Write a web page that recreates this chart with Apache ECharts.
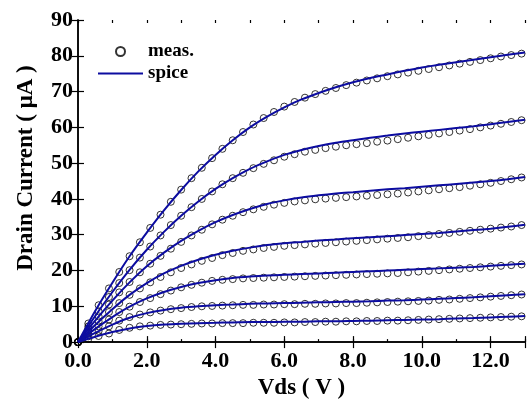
<!DOCTYPE html>
<html>
<head>
<meta charset="utf-8">
<script src="https://cdn.jsdelivr.net/npm/echarts@6/dist/echarts.min.js"></script>
<style>
  html, body { margin: 0; padding: 0; background: #fff; }
  #chart { width: 528px; height: 405px; }
</style>
</head>
<body>
<div id="chart"></div>
<script>
// measured points (Vds in V, Id in uA), one array per gate voltage
const vds = [0, 0.3, 0.6, 0.9, 1.2, 1.5, 1.8, 2.1, 2.4, 2.7, 3.0, 3.3, 3.6, 3.9, 4.2, 4.5, 4.8, 5.1, 5.4, 5.7,
  6.0, 6.3, 6.6, 6.9, 7.2, 7.5, 7.8, 8.1, 8.4, 8.7, 9.0, 9.3, 9.6, 9.9, 10.2, 10.5, 10.8, 11.1, 11.4, 11.7,
  12.0, 12.3, 12.6, 12.9];
const meas1 = [0, 0.9, 1.7, 2.4, 3.4, 4.0, 4.4, 4.6, 4.8, 4.9, 5.0, 5.1, 5.2, 5.2, 5.3, 5.3, 5.3, 5.4, 5.4, 5.4,
  5.5, 5.5, 5.6, 5.6, 5.7, 5.7, 5.8, 5.8, 5.9, 5.9, 6.0, 6.0, 6.1, 6.2, 6.3, 6.4, 6.5, 6.6, 6.7, 6.8,
  6.9, 7.0, 7.1, 7.2];
const meas2 = [0, 1.6, 3.1, 4.4, 6.0, 7.0, 7.7, 8.3, 8.8, 9.2, 9.5, 9.8, 10.0, 10.1, 10.2, 10.3, 10.4, 10.4, 10.5, 10.5,
  10.6, 10.6, 10.7, 10.7, 10.8, 10.8, 10.9, 10.9, 11.0, 11.1, 11.2, 11.3, 11.4, 11.5, 11.6, 11.8, 11.9, 12.1, 12.3, 12.5,
  12.7, 12.9, 13.1, 13.3];
const meas3 = [0, 2.3, 4.4, 6.3, 8.4, 9.9, 11.2, 12.3, 13.4, 14.4, 15.3, 16.0, 16.6, 17.1, 17.4, 17.6, 17.8, 17.9, 18.0, 18.1,
  18.2, 18.3, 18.4, 18.5, 18.6, 18.7, 18.8, 18.9, 19.0, 19.1, 19.2, 19.3, 19.5, 19.7, 19.9, 20.1, 20.3, 20.5, 20.7, 20.9,
  21.1, 21.3, 21.5, 21.7];
const meas4 = [0, 3.0, 5.8, 8.4, 10.9, 13.2, 15.0, 16.7, 18.2, 19.5, 20.7, 21.7, 22.7, 23.5, 24.3, 24.9, 25.5, 25.9, 26.3, 26.6,
  26.9, 27.1, 27.3, 27.5, 27.7, 27.9, 28.1, 28.3, 28.5, 28.7, 28.9, 29.1, 29.3, 29.6, 29.9, 30.2, 30.5, 30.8, 31.1, 31.4,
  31.7, 32.0, 32.3, 32.7];
const meas5 = [0, 3.7, 7.2, 10.5, 13.9, 16.8, 19.5, 21.9, 24.1, 26.1, 28.0, 29.8, 31.4, 32.9, 34.2, 35.3, 36.3, 37.1, 37.8, 38.4,
  38.9, 39.3, 39.6, 39.9, 40.1, 40.3, 40.5, 40.7, 40.9, 41.1, 41.3, 41.5, 41.8, 42.1, 42.4, 42.7, 43.0, 43.3, 43.7, 44.1,
  44.5, 45.0, 45.5, 46.0];
const meas6 = [0, 4.4, 8.6, 12.6, 16.5, 20.1, 23.6, 26.7, 29.8, 32.7, 35.3, 37.7, 40.0, 42.1, 44.1, 45.8, 47.3, 48.6, 49.8, 50.8,
  51.8, 52.5, 53.2, 53.7, 54.2, 54.6, 55.0, 55.3, 55.6, 56.0, 56.3, 56.7, 57.1, 57.5, 57.9, 58.3, 58.7, 59.1, 59.5, 60.0,
  60.5, 61.0, 61.5, 62.0];
const meas7 = [0, 5.2, 10.3, 15.0, 19.6, 24.0, 27.9, 31.9, 35.6, 39.2, 42.6, 45.8, 48.7, 51.4, 54.0, 56.4, 58.7, 60.8, 62.6, 64.3,
  65.8, 67.1, 68.3, 69.3, 70.2, 71.0, 71.8, 72.5, 73.1, 73.7, 74.3, 74.8, 75.3, 75.8, 76.3, 76.8, 77.3, 77.8, 78.3, 78.8,
  79.3, 79.8, 80.2, 80.6];

// spice model curves, sampled every 0.5 V
const spiceVds = [0, 0.5, 1, 1.5, 2, 2.5, 3, 3.5, 4, 4.5, 5, 5.5, 6, 6.5, 7, 7.5, 8, 8.5, 9, 9.5,
  10, 10.5, 11, 11.5, 12, 12.5, 13];
const spice1 = [0, 1.5, 2.8, 3.8, 4.5, 4.9, 5.1, 5.3, 5.4, 5.5, 5.6, 5.6, 5.7, 5.7, 5.8, 5.8, 5.9, 6.0, 6.1, 6.2,
  6.3, 6.4, 6.6, 6.7, 6.9, 7.1, 7.3];
const spice2 = [0, 2.6, 4.9, 6.8, 8.1, 9.0, 9.6, 10.0, 10.3, 10.5, 10.7, 10.8, 10.9, 11.0, 11.1, 11.2, 11.3, 11.4, 11.6, 11.7,
  11.9, 12.1, 12.3, 12.5, 12.8, 13.1, 13.4];
const spice3 = [0, 3.7, 7.0, 9.9, 12.2, 14.0, 15.4, 16.5, 17.3, 17.9, 18.3, 18.6, 18.8, 19.0, 19.2, 19.4, 19.6, 19.8, 20.0, 20.2,
  20.4, 20.6, 20.8, 21.0, 21.3, 21.6, 21.9];
const spice4 = [0, 4.8, 9.2, 13.2, 16.5, 19.2, 21.3, 23.0, 24.4, 25.5, 26.4, 27.1, 27.6, 28.0, 28.4, 28.7, 29.0, 29.3, 29.6, 29.9,
  30.2, 30.5, 30.9, 31.3, 31.7, 32.2, 32.8];
const spice5 = [0, 6.0, 11.6, 16.7, 21.2, 25.0, 28.3, 31.1, 33.5, 35.5, 37.2, 38.6, 39.6, 40.4, 41.0, 41.5, 41.9, 42.3, 42.7, 43.0,
  43.4, 43.8, 44.2, 44.6, 45.0, 45.5, 46.1];
const spice6 = [0, 7.3, 14.0, 20.2, 25.8, 30.8, 35.3, 39.3, 42.8, 45.8, 48.4, 50.5, 52.3, 53.7, 54.8, 55.7, 56.4, 57.1, 57.7, 58.3,
  58.8, 59.3, 59.8, 60.3, 60.9, 61.5, 62.1];
const spice7 = [0, 8.7, 16.6, 24.0, 30.6, 36.8, 42.5, 47.7, 52.3, 56.4, 60.0, 63.0, 65.6, 67.8, 69.6, 71.2, 72.6, 73.8, 74.8, 75.8,
  76.7, 77.5, 78.2, 78.9, 79.6, 80.3, 80.9];

const measSets = [meas1, meas2, meas3, meas4, meas5, meas6, meas7];
const spiceSets = [spice1, spice2, spice3, spice4, spice5, spice6, spice7];

const font = 'Liberation Serif';
const axisColor = '#000';
const lineColor = '#0c0ca0';

function pairs(xs, ys) {
  return xs.map((x, i) => [x, ys[i]]);
}

let chartDom = document.getElementById('chart');
let myChart = echarts.init(chartDom);
let option;

let series = [];
measSets.forEach(ys => {
  series.push({
    name: 'meas.',
    type: 'scatter',
    data: pairs(vds, ys),
    symbol: 'circle',
    symbolSize: 7,
    itemStyle: { color: 'transparent', borderColor: '#000', borderWidth: 1 },
    z: 2
  });
});
spiceSets.forEach(ys => {
  series.push({
    name: 'spice',
    type: 'line',
    data: pairs(spiceVds, ys),
    symbol: 'none',
    smooth: 0.3,
    lineStyle: { color: lineColor, width: 2 },
    itemStyle: { color: lineColor },
    z: 3
  });
});

// x axes: main bottom, top frame, and two helpers for the 1 V minor ticks
const xBase = { type: 'value', min: 0, max: 13, splitLine: { show: false } };

option = {
  animation: false,
  grid: { left: 78, top: 20, width: 455, height: 326 },
  legend: {
    left: 97,
    top: 42,
    orient: 'vertical',
    padding: 0,
    itemWidth: 45,
    itemHeight: 9,
    itemGap: 3,
    textStyle: { fontFamily: font, fontWeight: 'bold', fontSize: 19, color: '#000' },
    data: [
      { name: 'meas.' },
      { name: 'spice', itemStyle: { opacity: 0 } }
    ]
  },
  xAxis: [
    Object.assign({}, xBase, {
      position: 'bottom',
      interval: 2,
      name: 'Vds ( V )',
      nameLocation: 'middle',
      nameGap: 30,
      nameTextStyle: { fontFamily: font, fontWeight: 'bold', fontSize: 23, color: '#000' },
      axisLine: { lineStyle: { color: axisColor, width: 1.5 } },
      axisTick: { inside: true, length: 6, lineStyle: { color: axisColor, width: 1.2 } },
      axisLabel: {
        margin: 8,
        fontFamily: font, fontWeight: 'bold', fontSize: 22, color: '#000',
        formatter: v => (v % 2 === 0 ? v.toFixed(1) : '')
      }
    }),
    Object.assign({}, xBase, {
      position: 'top',
      interval: 2,
      axisLine: { lineStyle: { color: axisColor, width: 1.5 } },
      axisTick: { inside: true, length: 6, lineStyle: { color: axisColor, width: 1.2 } },
      axisLabel: { show: false }
    }),
    Object.assign({}, xBase, {
      position: 'bottom',
      interval: 1,
      axisLine: { show: false },
      axisTick: { inside: true, length: 3, lineStyle: { color: axisColor, width: 1.2 } },
      axisLabel: { show: false }
    }),
    Object.assign({}, xBase, {
      position: 'top',
      interval: 1,
      axisLine: { show: false },
      axisTick: { inside: true, length: 3, lineStyle: { color: axisColor, width: 1.2 } },
      axisLabel: { show: false }
    })
  ],
  yAxis: [
    {
      type: 'value',
      min: 0,
      max: 90,
      interval: 10,
      position: 'left',
      name: 'Drain Current ( μA )',
      nameLocation: 'middle',
      nameRotate: 90,
      nameGap: 40,
      nameTextStyle: { fontFamily: font, fontWeight: 'bold', fontSize: 23, color: '#000', padding: [0, 0, 0, 26] },
      splitLine: { show: false },
      axisLine: { show: true, lineStyle: { color: axisColor, width: 1.5 } },
      axisTick: { show: true, inside: true, length: 6, lineStyle: { color: axisColor, width: 1.2 } },
      axisLabel: { margin: 5, fontFamily: font, fontWeight: 'bold', fontSize: 22, color: '#000' }
    },
    {
      type: 'value',
      min: 0,
      max: 90,
      interval: 10,
      position: 'right',
      splitLine: { show: false },
      axisLine: { show: true, lineStyle: { color: axisColor, width: 1.5 } },
      axisTick: { show: true, inside: true, length: 6, lineStyle: { color: axisColor, width: 1.2 } },
      axisLabel: { show: false }
    }
  ],
  series: series
};

option && myChart.setOption(option);
</script>
</body>
</html>
